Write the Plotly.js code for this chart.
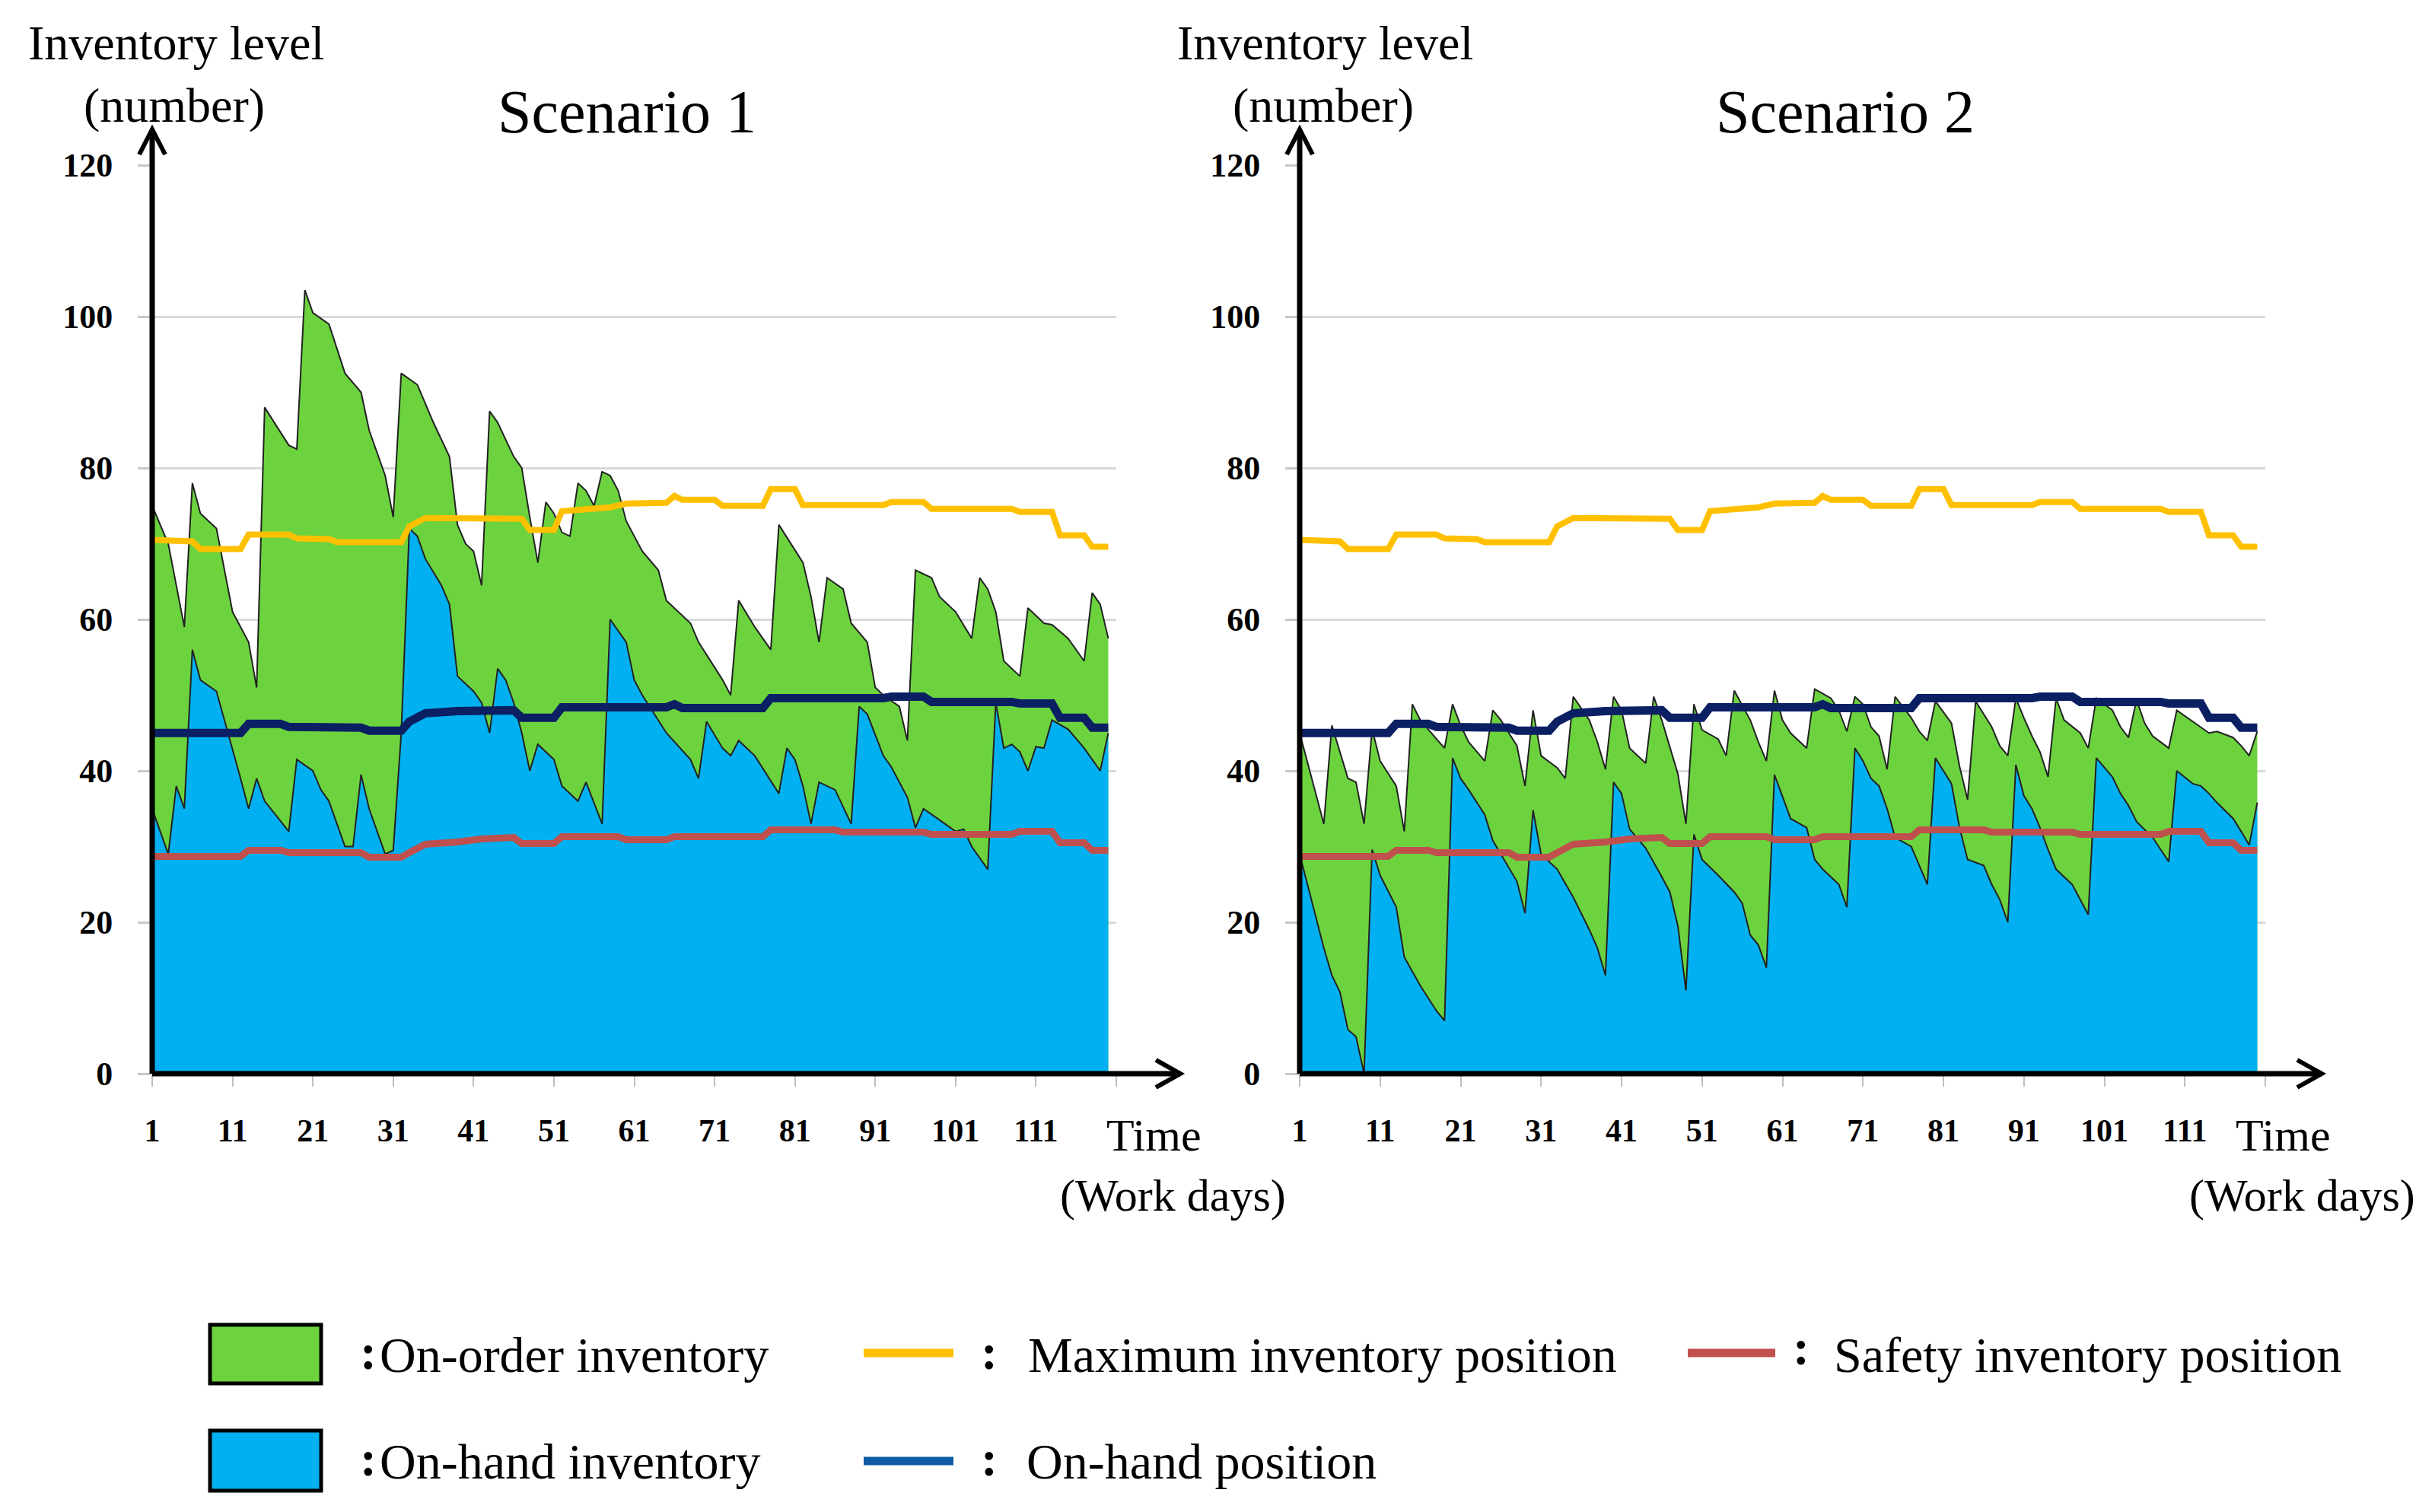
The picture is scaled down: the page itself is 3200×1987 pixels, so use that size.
<!DOCTYPE html>
<html>
<head>
<meta charset="utf-8">
<script src="https://cdn.plot.ly/plotly-3.0.1.min.js"></script>
<style>
  html, body { margin: 0; padding: 0; background: #ffffff; }
  #chart { width: 3200px; height: 1987px; }
</style>
</head>
<body>
<div id="chart"></div>
<script>
// ---------------- DATA ----------------
// Scenario 1: inventory position (on-hand + on-order), drawn as the green area
const s1OrderDays = [1,3,5,6,7,9,11,13,14,15,18,19,20,21,23,25,27,28,30,31,32,34,35,36,38,39,40,41,42,43,44,46,47,48,49,50,51,52,53,54,55,56,57,58,59,60,62,64,65,68,69,72,73,74,76,78,79,82,83,84,85,87,88,90,91,92,94,95,96,98,99,101,103,104,105,106,107,109,110,112,113,115,117,118,119,120];
const s1OrderLevel = [75,70,59,78,74,72,61,57,51,88,83,82.5,103.5,100.5,99,92.5,90,85,79,73.5,92.5,91,88.5,86,81.5,72.5,70,69,64.5,87.5,86,81.5,80,73.5,67.5,75.5,74,71.5,71,78,77,75,79.5,79,77,73,69,66.5,62.5,59.5,57,52,50,62.5,59,56,72.5,67.5,63,57,65.5,64,59.5,57,51,50,48.5,44,66.5,65.5,63,61,57.5,65.5,64,61,54.5,52.5,61.5,59.5,59.3,57.5,54.5,63.5,62,57.5];
// Scenario 1: on-hand inventory (blue area)
const s1HandDays = [1,3,4,5,6,7,9,11,12,13,14,15,18,19,21,22,23,25,26,27,28,30,31,32,33,34,35,37,38,39,41,42,43,44,45,46,47,48,49,51,52,54,55,57,58,60,61,62,65,68,69,70,72,73,74,76,79,80,81,82,83,84,86,88,89,90,92,93,95,96,97,99,101,102,103,105,106,107,108,109,110,111,112,113,115,117,119,120];
const s1HandLevel = [35,29,38,35,56,52,50.5,43,39,35,39,36,32,41.5,40,37.5,36,30,30,39.5,35,29,29.5,45,72,71,68,64.5,62,52.5,50.5,49,45,53.5,52,49,45,40,43.5,41.5,38,36,38.5,33,60,57,52,50,45,41.5,39,46.5,43,42,44,42,37,43,41.5,38,33,38.5,37.5,33,48.5,47.5,42,40.5,36.5,32.5,35,33.5,32,32.3,30,27,49,43,43.5,42.5,40,43.2,43,46.7,45.5,43,40,45];

// Scenario 2: inventory position (green area)
const s2OrderDays = [1,4,5,7,8,9,10,11,13,14,15,16,18,19,20,21,22,24,25,26,28,29,30,31,33,34,35,37,38,39,40,41,42,44,45,46,48,49,50,51,53,54,55,57,58,59,60,61,62,64,65,67,68,69,70,71,72,73,74,75,77,78,79,80,82,83,84,85,87,88,89,90,91,92,93,94,95,96,98,99,100,102,103,104,105,106,107,109,110,112,113,114,115,117,118,119,120];
const s2OrderLevel = [45,33,46,39,38.5,33,45.5,41.3,38,32,48.8,46.7,44.2,43,48.8,46,43.8,41.3,48,46.7,43.3,38,48,42,40.4,39,49.8,46.7,43.8,40.2,49.8,48,43,41,49.8,46.7,39.6,33,48.8,45.4,44.2,42,50.6,46.7,43.8,41.3,50.6,46.7,45,43,50.8,49.6,48,45.2,49.8,48.8,45.8,44.6,40.2,49.8,47,45.2,44,49.2,46.3,40.6,36.2,49.2,45.8,43.3,42,49.6,47,44.6,42.5,39.2,49.6,46.7,45,43,49.6,48,45.8,44.4,49.4,46.3,44.6,43,48,46.5,45.8,45,45.2,44.4,43.3,42,45.2];
// Scenario 2: on-hand inventory (blue area)
const s2HandDays = [1,4,5,6,7,8,9,10,11,13,14,16,18,19,20,21,22,24,25,26,28,29,30,31,33,35,37,38,39,40,41,42,44,46,47,48,49,50,51,53,55,56,57,58,59,60,61,62,64,65,66,68,69,70,71,72,73,74,75,77,78,79,80,82,83,84,86,87,88,89,90,91,92,93,94,95,97,98,99,100,102,103,104,105,107,108,109,110,112,113,114,115,117,118,119,120];
const s2HandLevel = [29,16.6,13,10.8,5.8,4.9,0,29.6,26.2,22,15.4,11.6,8.3,7,41.7,39,37.5,34.2,30.8,29,25.4,21.2,34.8,29,27,23.3,19,16.6,13,38.5,37,32.3,29.8,26,24,19.5,11,31.6,28.3,26.2,24,22.5,18.3,17,14,39.5,36.7,33.7,32.5,28.3,27,25,22,43,41.3,39,38,35,31.2,30,27.5,25,41.7,38.3,32.5,28.3,27.5,25,23,20,40.8,36.7,35,32.5,29.6,27,25,23,21,41.7,39.2,37,35.4,33.3,31.2,29.6,28,40,38.3,38,37,35.8,33.7,32,30.2,35.8];

// Reference lines (same in both scenarios)
const maxPosDays = [1,6,7,12,13,18,19,23,24,32,33,35,47,48,51,52,58,60,65,66,67,71,72,77,78,81,82,92,93,97,98,108,109,113,114,117,118,120];
const maxPosLevel = [70.5,70.3,69.3,69.3,71.2,71.2,70.7,70.6,70.2,70.2,72.3,73.4,73.3,71.8,71.8,74.3,74.8,75.3,75.4,76.3,75.8,75.8,75,75,77.2,77.2,75.1,75.1,75.5,75.5,74.6,74.6,74.2,74.2,71.1,71.1,69.6,69.6];
const handPosDays = [1,12,13,17,18,27,28,32,33,35,39,46,47,51,52,65,66,67,77,78,92,93,97,98,108,109,113,114,117,118,120];
const handPosLevel = [45,45,46.2,46.2,45.8,45.7,45.3,45.3,46.5,47.6,47.9,48,47,47,48.4,48.4,48.8,48.3,48.3,49.6,49.6,49.8,49.8,49.1,49.1,48.9,48.9,47,47,45.7,45.7];
const safetyDays = [1,12,13,17,18,27,28,32,33,35,39,42,46,47,51,52,59,60,65,66,77,78,86,87,97,98,108,109,113,114,117,118,120];
const safetyLevel = [28.7,28.7,29.5,29.5,29.2,29.2,28.6,28.6,29.2,30.3,30.6,31,31.2,30.4,30.4,31.3,31.3,30.9,30.9,31.3,31.3,32.2,32.2,31.9,31.9,31.6,31.6,32,32,30.5,30.5,29.5,29.5];

// Axis ticks
const yTicks = [0,20,40,60,80,100,120];
const xTickVals = [1,11,21,31,41,51,61,71,81,91,101,111,121];
const xTickText = ['1','11','21','31','41','51','61','71','81','91','101','111',''];

const scenarioTitles = ['Scenario 1','Scenario 2'];
const legendLabels = {
  order: 'On-order inventory',
  hand: 'On-hand inventory',
  maxPos: 'Maximum inventory position',
  handPos: 'On-hand position',
  safety: 'Safety inventory position'
};

// ---------------- STYLE ----------------
const W = 3200, H = 1987;
const FONT = 'Liberation Serif, Times New Roman, serif';
const C = {
  green: '#6CD33F', blue: '#00B0F0', yellow: '#FFC000',
  red: '#C0504D', navy: '#0B1F63', navyLegend: '#0F5AA5',
  edge: '#222222', grid: '#D9D9D9'
};
const px = v => v / W;
const py = v => 1 - v / H;

function areaTrace(x, y, color, xa, ya, name) {
  return { type: 'scatter', mode: 'lines', x, y, xaxis: xa, yaxis: ya, name,
    fill: 'tozeroy', fillcolor: color, line: { color: C.edge, width: 2 }, hoverinfo: 'skip' };
}
function lineTrace(x, y, color, width, xa, ya, name) {
  return { type: 'scatter', mode: 'lines', x, y, xaxis: xa, yaxis: ya, name,
    line: { color, width }, hoverinfo: 'skip' };
}

const traces = [];
[['x','y', s1OrderDays, s1OrderLevel, s1HandDays, s1HandLevel],
 ['x2','y2', s2OrderDays, s2OrderLevel, s2HandDays, s2HandLevel]].forEach(s => {
  const [xa, ya, od, ol, hd, hl] = s;
  traces.push(areaTrace(od, ol, C.green, xa, ya, 'On-order inventory'));
  traces.push(areaTrace(hd, hl, C.blue, xa, ya, 'On-hand inventory'));
  traces.push(lineTrace(maxPosDays, maxPosLevel, C.yellow, 8, xa, ya, 'Maximum inventory position'));
  traces.push(lineTrace(safetyDays, safetyLevel, C.red, 9, xa, ya, 'Safety inventory position'));
  traces.push(lineTrace(handPosDays, handPosLevel, C.navy, 11, xa, ya, 'On-hand position'));
});

// Plot geometry (pixels in the 3200x1987 picture)
const Y0 = 1411, Y120 = 217;
const panels = [
  { x0: 200, x121: 1467, arrowX: 1551, titleX: 824, ylabX: 231, timeX: 1516 },
  { x0: 1708, x121: 2977, arrowX: 3051, titleX: 2425, ylabX: 1741, timeX: 3000 }
];

function xAxis(p, anchor) {
  return {
    domain: [px(p.x0), px(p.x121)], range: [1, 121], anchor,
    tickmode: 'array', tickvals: xTickVals, ticktext: xTickText,
    ticks: 'outside', ticklen: 16, tickwidth: 2, tickcolor: '#BFBFBF',
    ticklabelstandoff: 22,
    tickfont: { family: FONT, size: 42, color: '#000', weight: 'bold' },
    showgrid: false, zeroline: false, showline: false, fixedrange: true
  };
}
function yAxis(anchor) {
  return {
    domain: [py(Y0), py(Y120)], range: [0, 120], anchor,
    tickmode: 'array', tickvals: yTicks,
    ticks: 'outside', ticklen: 18, tickwidth: 3, tickcolor: '#C8C8C8',
    ticklabelstandoff: 24,
    tickfont: { family: FONT, size: 44, color: '#000', weight: 'bold' },
    showgrid: true, gridcolor: C.grid, gridwidth: 3,
    zeroline: false, showline: false, fixedrange: true
  };
}

const shapes = [];
const annotations = [];
function paperLine(x0, y0, x1, y1, color, width) {
  shapes.push({ type: 'line', xref: 'paper', yref: 'paper',
    x0: px(x0), y0: py(y0), x1: px(x1), y1: py(y1), line: { color, width } });
}
function paperPath(pts, color, width) {
  const d = pts.map((p, i) => (i ? 'L' : 'M') + px(p[0]) + ',' + py(p[1])).join(' ');
  shapes.push({ type: 'path', xref: 'paper', yref: 'paper', path: d, line: { color, width } });
}
function text(t, x, y, size, anchor, weight) {
  annotations.push({ xref: 'paper', yref: 'paper', x: px(x), y: py(y), text: t,
    showarrow: false, xanchor: anchor || 'center', yanchor: 'middle',
    font: { family: FONT, size, color: '#000', weight: weight || 'normal' } });
}

panels.forEach((p, i) => {
  // axes with open arrowheads
  paperLine(p.x0, Y0, p.x0, 172, '#000', 7);
  paperPath([[p.x0 - 17, 203], [p.x0, 170], [p.x0 + 17, 203]], '#000', 6);
  paperLine(p.x0, Y0, p.arrowX, Y0, '#000', 7);
  paperPath([[p.arrowX - 32, Y0 - 18], [p.arrowX, Y0], [p.arrowX - 32, Y0 + 18]], '#000', 6);
  text('Inventory level', p.ylabX, 57, 64);
  text('(number)', p.ylabX - 2, 139, 64);
  text(scenarioTitles[i], p.titleX, 147, 80);
  text('Time', p.timeX, 1492, 60);
  text('(Work days)', p.timeX + 25, 1571, 60);
});

// Legend
shapes.push({ type: 'rect', xref: 'paper', yref: 'paper', x0: px(276), x1: px(422), y0: py(1818), y1: py(1741),
  fillcolor: C.green, line: { color: '#000', width: 5 } });
shapes.push({ type: 'rect', xref: 'paper', yref: 'paper', x0: px(276), x1: px(422), y0: py(1959), y1: py(1880),
  fillcolor: C.blue, line: { color: '#000', width: 5 } });
text(':', 484, 1776, 66, 'center', 'bold');
text(':', 484, 1916, 66, 'center', 'bold');
text(legendLabels.order, 497, 1780, 66, 'left');
text(legendLabels.hand, 497, 1920, 66, 'left');
paperLine(1135, 1778, 1253, 1778, C.yellow, 11);
paperLine(1135, 1920, 1253, 1920, C.navyLegend, 11);
paperLine(2218, 1778, 2333, 1778, C.red, 11);
text(':', 1300, 1776, 66, 'center', 'bold');
text(':', 1300, 1916, 66, 'center', 'bold');
text(':', 2367, 1770, 66, 'center', 'bold');
text(legendLabels.maxPos, 1349, 1780, 66, 'left');
text(legendLabels.handPos, 1347, 1920, 66, 'left');
text(legendLabels.safety, 2408, 1780, 66, 'left');

const layout = {
  width: W, height: H,
  margin: { l: 0, r: 0, t: 0, b: 0 },
  paper_bgcolor: '#ffffff', plot_bgcolor: '#ffffff',
  showlegend: false,
  font: { family: FONT, color: '#000' },
  xaxis: xAxis(panels[0], 'y'),
  yaxis: yAxis('x'),
  xaxis2: xAxis(panels[1], 'y2'),
  yaxis2: yAxis('x2'),
  shapes, annotations
};

Plotly.newPlot('chart', traces, layout, { displayModeBar: false, staticPlot: true });
</script>
</body>
</html>
